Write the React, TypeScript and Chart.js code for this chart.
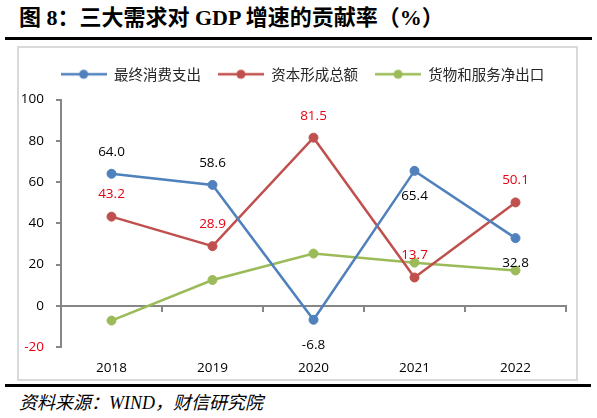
import React, { useEffect, useRef } from "react";
import { Chart, registerables } from "chart.js";

Chart.register(...registerables);

const categories = ["2018", "2019", "2020", "2021", "2022"];
const seriesNames = ["最终消费支出", "资本形成总额", "货物和服务净出口"];
const consumption = [64.0, 58.6, -6.8, 65.4, 32.8];
const capital = [43.2, 28.9, 81.5, 13.7, 50.1];
const netExports = [-7.2, 12.5, 25.3, 20.9, 17.1];
const consumptionLabelSide = ["above", "above", "below", "below", "below"];
const capitalLabelSide = ["above", "above", "above", "above", "above"];
const yTicks = { min: -20, max: 100, step: 20 };

const BLUE = "#4f81bd";
const RED = "#c0504d";
const GREEN = "#9bbb59";
const LABEL_RED = "#e60012";
const AXIS = "#868686";
const NUM_FONT = '"Open Sans", "Liberation Sans", sans-serif';
const CJK_FONT = '"Noto Sans CJK SC", sans-serif';

function legendMarker(color: string): HTMLCanvasElement {
  const c = document.createElement("canvas");
  c.width = 46;
  c.height = 12;
  const g = c.getContext("2d")!;
  g.strokeStyle = color;
  g.lineWidth = 2.5;
  g.beginPath();
  g.moveTo(0, 6);
  g.lineTo(46, 6);
  g.stroke();
  g.fillStyle = color;
  g.beginPath();
  g.arc(23, 6, 4.5, 0, Math.PI * 2);
  g.fill();
  return c;
}

const dataLabelPlugin = {
  id: "dataLabels",
  afterDatasetsDraw(chart: any) {
    const ctx = chart.ctx;
    chart.data.datasets.forEach((ds: any, di: number) => {
      if (!ds.labelSides) return;
      const meta = chart.getDatasetMeta(di);
      meta.data.forEach((pt: any, i: number) => {
        const v = ds.data[i];
        const side = ds.labelSides[i];
        const y = side === "above" ? pt.y - 22 : pt.y + 25;
        ctx.save();
        ctx.font = `13.5px ${NUM_FONT}`;
        ctx.fillStyle = ds.labelColor;
        ctx.textAlign = "center";
        ctx.textBaseline = "middle";
        ctx.fillText(v.toFixed(1), pt.x, y);
        ctx.restore();
      });
    });
  },
};

const legendTweakPlugin = {
  id: "legendTweak",
  beforeLayout(chart: any) {
    const lg = chart.legend;
    if (lg && !lg._patched) {
      const orig = lg.fit.bind(lg);
      lg.fit = function () {
        orig();
        this.height += 8;
      };
      lg._patched = true;
    }
  },
  afterLayout(chart: any) {
    const lg = chart.legend;
    if (lg) {
      lg.left += 10;
      lg.right += 10;
    }
  },
};

export default function App() {
  const ref = useRef<HTMLCanvasElement | null>(null);

  useEffect(() => {
    if (!ref.current) return;
    const markers = [legendMarker(BLUE), legendMarker(RED), legendMarker(GREEN)];
    const mk = (label: string, data: number[], color: string, extra: any = {}) => ({
      label,
      data,
      borderColor: color,
      backgroundColor: color,
      borderWidth: 2.5,
      pointRadius: 4.5,
      pointBorderWidth: 1,
      pointBorderColor: color,
      pointBackgroundColor: color,
      tension: 0,
      xAxisID: "x",
      ...extra,
    });
    const chart = new Chart(ref.current, {
      type: "line",
      data: {
        labels: categories,
        datasets: [
          mk(seriesNames[0], consumption, BLUE, { labelSides: consumptionLabelSide, labelColor: "#000" }),
          mk(seriesNames[1], capital, RED, { labelSides: capitalLabelSide, labelColor: LABEL_RED }),
          mk(seriesNames[2], netExports, GREEN),
        ] as any,
      },
      options: {
        animation: false,
        responsive: false,
        maintainAspectRatio: false,
        layout: { padding: { left: 0, right: 10, top: 2, bottom: 0 } },
        plugins: {
          tooltip: { enabled: false },
          legend: {
            display: true,
            position: "top",
            labels: {
              usePointStyle: true,
              pointStyleWidth: 46,
              padding: 17,
              color: "#262626",
              font: { family: CJK_FONT, size: 14.5 },
              generateLabels(c: any) {
                const items = Chart.defaults.plugins.legend.labels.generateLabels(c);
                items.forEach((it: any, i: number) => {
                  it.pointStyle = markers[i];
                });
                return items;
              },
            },
          },
        },
        scales: {
          x: {
            type: "category",
            position: "bottom",
            offset: true,
            grid: { display: false },
            border: { display: false },
            ticks: { color: "#000", font: { family: NUM_FONT, size: 13.5 }, padding: 5 },
            afterFit(s: any) {
              s.height = 32;
            },
          },
          x0: {
            type: "category",
            position: { y: 0 } as any,
            offset: true,
            grid: {
              offset: true,
              drawOnChartArea: false,
              drawTicks: true,
              tickLength: 5,
              color: AXIS,
              lineWidth: 2,
            },
            border: { display: true, color: AXIS, width: 2 },
            ticks: { display: false },
          },
          y: {
            type: "linear",
            min: yTicks.min,
            max: yTicks.max,
            ticks: {
              stepSize: yTicks.step,
              padding: 12,
              font: { family: NUM_FONT, size: 13.5 },
              color: (c: any) => (c.tick && c.tick.value === -20 ? LABEL_RED : "#000"),
            },
            grid: {
              drawOnChartArea: false,
              drawTicks: true,
              tickLength: 5,
              color: AXIS,
              lineWidth: 2,
            },
            border: { display: true, color: AXIS, width: 2 },
            afterFit(s: any) {
              s.width = 42;
            },
          },
        } as any,
      },
      plugins: [dataLabelPlugin, legendTweakPlugin],
    });
    return () => chart.destroy();
  }, []);

  return (
    <div style={{ position: "absolute", left: 0, top: 0, width: 597, height: 418, background: "#fff", overflow: "hidden" }}>
      <div
        style={{
          position: "absolute",
          left: 19,
          top: 4,
          fontFamily: '"Liberation Serif", "Noto Sans CJK SC", serif',
          fontWeight: "bold",
          fontSize: 22,
          lineHeight: "28px",
          whiteSpace: "nowrap",
          color: "#000",
        }}
      >
        图 8：三大需求对 GDP 增速的贡献率（%）
      </div>
      <div style={{ position: "absolute", left: 5, top: 37, width: 587, height: 3, background: "#000" }} />
      <div
        style={{
          position: "absolute",
          left: 17,
          top: 46,
          width: 561,
          height: 335,
          border: "2px solid #d9d9d9",
          boxSizing: "border-box",
        }}
      >
        <canvas ref={ref} width={557} height={331} style={{ display: "block", width: 557, height: 331 }} />
      </div>
      <div style={{ position: "absolute", left: 5, top: 384, width: 586, height: 3, background: "#000" }} />
      <div
        style={{
          position: "absolute",
          left: 19,
          top: 390,
          fontFamily: '"Liberation Serif", "Noto Sans CJK SC", serif',
          fontStyle: "italic",
          fontSize: 18,
          lineHeight: "26px",
          whiteSpace: "nowrap",
          color: "#000",
        }}
      >
        资料来源：WIND，财信研究院
      </div>
    </div>
  );
}
